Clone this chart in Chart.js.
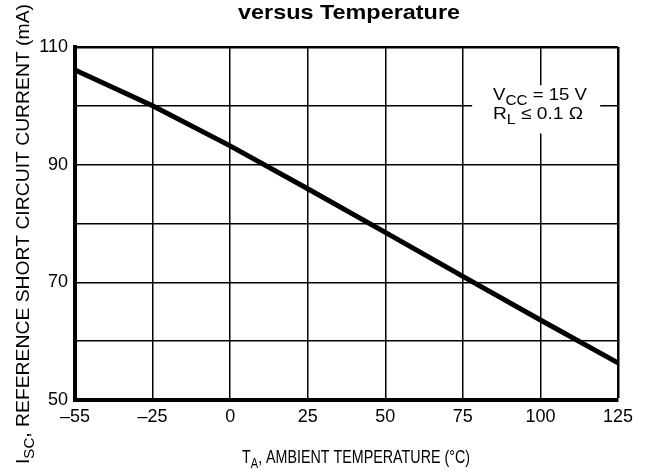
<!DOCTYPE html>
<html>
<head>
<meta charset="utf-8">
<script src="https://cdn.jsdelivr.net/npm/chart.js@4.4.1/dist/chart.umd.min.js"></script>
<style>
  html, body { margin: 0; padding: 0; background: #fff; }
  #wrap { width: 650px; height: 474px; position: relative; }
</style>
</head>
<body>
<div id="wrap"><canvas id="c" width="650" height="474"></canvas></div>
<script>
// ---- data ----
const temperatures = ['–55', '–25', '0', '25', '50', '75', '100', '125'];
const currentMA = [106.1, 100.0, 93.2, 85.9, 78.5, 71.0, 63.6, 56.3];
const yTickValues = [50, 70, 90, 110];
const chartTitle = 'versus Temperature';
const yTitleParts = [{t: 'I'}, {t: 'SC', sub: true}, {t: ', REFERENCE SHORT CIRCUIT CURRENT (mA)'}];
const xTitleParts = [{t: 'T'}, {t: 'A', sub: true}, {t: ', AMBIENT TEMPERATURE (°C)'}];
const noteLine1 = [{t: 'V'}, {t: 'CC', sub: true}, {t: ' = 15 V'}];
const noteLine2 = [{t: 'R'}, {t: 'L', sub: true}, {t: ' ≤ 0.1 Ω'}];

const FONT = '"Liberation Sans", Arial, sans-serif';

function richWidth(ctx, parts, fs) {
  let w = 0;
  for (const p of parts) {
    ctx.font = (p.sub ? Math.round(fs * 0.8) : fs) + 'px ' + FONT;
    w += ctx.measureText(p.t).width;
  }
  return w;
}
function drawRich(ctx, parts, fs, targetWidth) {
  // draws centered at origin, baseline at y=0
  const nat = richWidth(ctx, parts, fs);
  const sx = targetWidth ? targetWidth / nat : 1;
  ctx.save();
  ctx.scale(sx, 1);
  let x = -nat / 2;
  ctx.textBaseline = 'alphabetic';
  ctx.textAlign = 'left';
  for (const p of parts) {
    const f = p.sub ? Math.round(fs * 0.8) : fs;
    ctx.font = f + 'px ' + FONT;
    ctx.fillText(p.t, x, p.sub ? fs * 0.3 : 0);
    x += ctx.measureText(p.t).width;
  }
  ctx.restore();
}

const textPlugin = {
  id: 'textPlugin',
  afterDraw(chart) {
    const ctx = chart.ctx;
    const xs = chart.scales.x, ys = chart.scales.y;
    ctx.save();
    ctx.fillStyle = '#000';
    // title
    ctx.font = 'bold 21px ' + FONT;
    ctx.textAlign = 'center';
    ctx.textBaseline = 'alphabetic';
    const tw = ctx.measureText(chartTitle).width;
    ctx.save();
    ctx.translate(349, 19);
    ctx.scale(222 / tw, 1);
    ctx.fillText(chartTitle, 0, 0);
    ctx.restore();

    // y axis title
    ctx.save();
    ctx.translate(29, 234);
    ctx.rotate(-Math.PI / 2);
    drawRich(ctx, yTitleParts, 18, 460);
    ctx.restore();

    // x axis title
    ctx.save();
    ctx.translate(356, 463);
    drawRich(ctx, xTitleParts, 18, 228);
    ctx.restore();

    // note box (covers grid)
    const bx0 = xs.getPixelForValue(5.12), bx1 = xs.getPixelForValue(6.77);
    const by0 = ys.getPixelForValue(103.5), by1 = ys.getPixelForValue(95.3);
    ctx.fillStyle = '#fff';
    ctx.fillRect(bx0, by0, bx1 - bx0, by1 - by0);
    ctx.fillStyle = '#000';
    ctx.save();
    ctx.translate(540, 100);
    drawRich(ctx, noteLine1, 17, 94);
    ctx.restore();
    ctx.save();
    ctx.translate(538, 119);
    drawRich(ctx, noteLine2, 17, 90);
    ctx.restore();
    ctx.restore();
  }
};

new Chart(document.getElementById('c'), {
  type: 'line',
  data: {
    labels: temperatures,
    datasets: [{
      data: currentMA,
      borderColor: '#000',
      borderWidth: 5,
      pointRadius: 0,
      tension: 0,
      fill: false,
      borderCapStyle: 'butt'
    }]
  },
  options: {
    responsive: false,
    animation: false,
    events: [],
    layout: { padding: { left: 0, right: 32, top: 47, bottom: 0 } },
    plugins: { legend: { display: false }, tooltip: { enabled: false }, title: { display: false } },
    scales: {
      x: {
        type: 'category',
        offset: false,
        afterFit(scale) { scale.height = 74; },
        grid: {
          color: '#000',
          lineWidth: (c) => (c.index === temperatures.length - 1 ? 2.5 : 1.5),
          drawTicks: false
        },
        border: { color: '#000', width: 4 },
        ticks: {
          color: '#000',
          font: { family: FONT, size: 18 },
          padding: 6,
          autoSkip: false,
          maxRotation: 0
        }
      },
      y: {
        min: 50,
        max: 110,
        afterFit(scale) { scale.width = 75; },
        grid: {
          color: '#000',
          lineWidth: (c) => (c.tick && c.tick.value === 110 ? 2.5 : 1.5),
          drawTicks: false
        },
        border: { color: '#000', width: 4 },
        ticks: {
          stepSize: 10,
          color: '#000',
          font: { family: FONT, size: 18 },
          padding: 7,
          callback: (v) => (yTickValues.includes(v) ? String(v) : '')
        }
      }
    }
  },
  plugins: [textPlugin]
});
</script>
</body>
</html>
